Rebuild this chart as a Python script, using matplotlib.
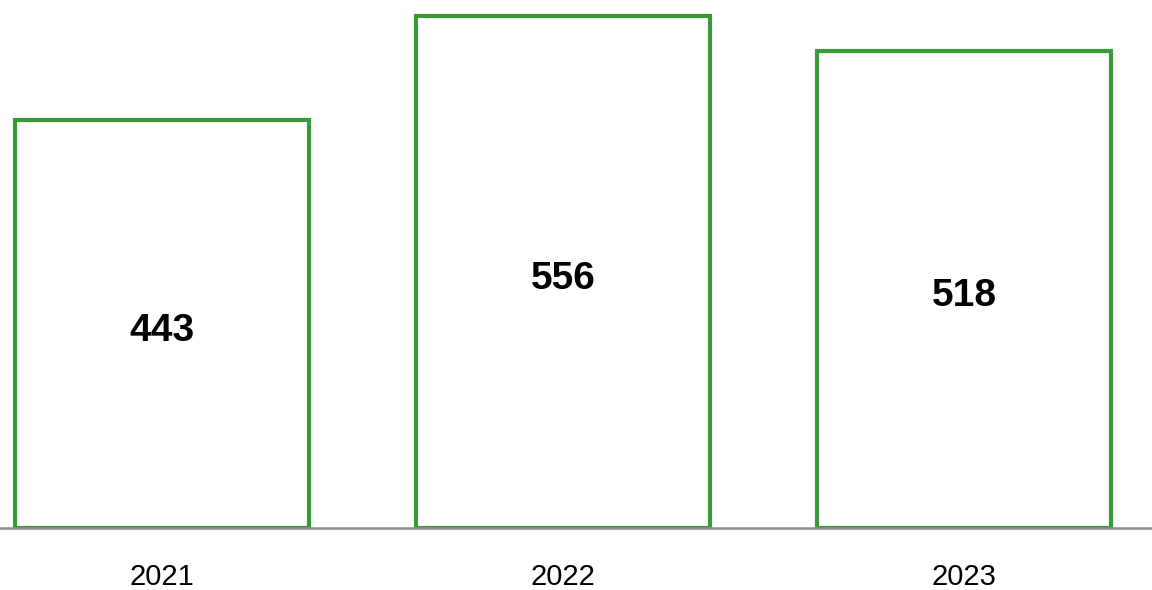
import matplotlib
matplotlib.use("Agg")
import matplotlib.pyplot as plt
from matplotlib import font_manager

years = ["2021", "2022", "2023"]
values = [443, 556, 518]

names = {f.name for f in font_manager.fontManager.ttflist}
font = "Liberation Sans Narrow" if "Liberation Sans Narrow" in names else "Liberation Sans"
plt.rcParams["font.family"] = [font, "DejaVu Sans"]

green = "#3a9a3a"

fig = plt.figure(figsize=(11.52, 5.9), dpi=100)
ax = fig.add_axes([0, 1 - 528 / 590, 1, 528 / 590])

x = range(len(years))
bars = ax.bar(x, values, width=0.735, facecolor="white", edgecolor=green, linewidth=3)

for b, v in zip(bars, values):
    ax.annotate(str(v), (b.get_x() + b.get_width() / 2, v / 2), xytext=(0, -5),
                textcoords="offset points", ha="center", va="center",
                fontsize=28, fontweight="bold", color="black")

ax.axhline(0, color="#8c8c8c", linewidth=1.8, zorder=5, clip_on=False)

ax.set_xlim(-0.404, 2.469)
ax.set_ylim(0, 573)
ax.set_xticks(list(x))
ax.set_xticklabels(years, fontsize=21)
ax.tick_params(axis="x", length=0, pad=25)
ax.set_yticks([])
for s in ax.spines.values():
    s.set_visible(False)

fig.savefig("out.png", dpi=100)
